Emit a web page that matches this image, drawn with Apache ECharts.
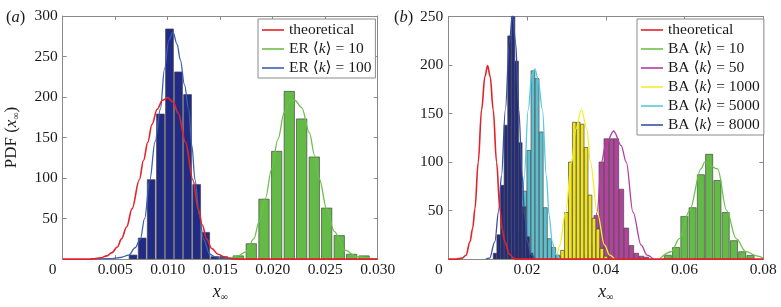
<!DOCTYPE html>
<html>
<head>
<meta charset="utf-8">
<script src="https://cdn.jsdelivr.net/npm/echarts@6/dist/echarts.min.js"></script>
<style>
html,body{margin:0;padding:0;background:#fff;}
#chart{width:781px;height:307px;}
</style>
</head>
<body>
<div id="chart"></div>
<script>
// ---------- DATA ----------
// panel (a) axis ticks [min, max, interval]
const xTicksA = [0, 0.03, 0.005];
const yTicksA = [0, 300, 50];
// panel (b) axis ticks
const xTicksB = [0, 0.08, 0.02];
const yTicksB = [0, 250, 50];

// panel (a) histograms (bin centres, PDF heights)
const erK100Centers = [0.00670, 0.00757, 0.00843, 0.00931, 0.01017, 0.01103, 0.01189, 0.01276, 0.01362, 0.01448, 0.01533];
const erK100Counts  = [5, 26, 98, 179, 284, 231, 203, 92, 33, 3, 3];
const erK100Bin = 0.000866;
const erK10Centers = [0.01672, 0.01796, 0.01917, 0.02038, 0.02158, 0.02276, 0.02396, 0.02514, 0.02634, 0.02752, 0.02870];
const erK10Counts  = [4, 19, 74, 133, 207, 173, 126, 63, 29, 6, 4];
const erK10Bin = 0.0012;

// panel (a) curves
const theoreticalA = [[0,0],[0.0025,0],[0.003,0.5],[0.0036,1.5],[0.0042,4],[0.0047,8],[0.0052,15],[0.0056,25],[0.0061,40],[0.0066,62],[0.0073,98],[0.0077,122],[0.0081,144],[0.0085,166],[0.0090,185],[0.0095,196],[0.0100,199],[0.0105,194],[0.0110,180],[0.0117,144],[0.0124,98],[0.0129,62],[0.0133,42],[0.0137,25],[0.0142,13],[0.0148,6],[0.0155,2],[0.0162,0.5],[0.0170,0],[0.030,0]];
const erK100Curve = [[0.003,0],[0.0045,0.5],[0.0055,2],[0.0063,5],[0.0069,14],[0.0074,25],[0.0078,50],[0.0083,98],[0.0088,145],[0.0093,185],[0.0097,235],[0.0101,270],[0.0105,280],[0.0109,265],[0.0112,246],[0.0116,215],[0.0120,185],[0.0123,140],[0.0126,98],[0.0130,55],[0.0134,25],[0.0140,6],[0.0145,3],[0.0153,1],[0.0165,0]];
const erK10Curve = [[0.0150,0],[0.0159,1],[0.0167,4],[0.01745,9],[0.0182,25],[0.0187,46],[0.0193,75],[0.0199,111],[0.0205,148],[0.0211,181],[0.02165,195],[0.0221,196],[0.02276,187],[0.02349,156],[0.0240,128],[0.02444,99],[0.02514,62],[0.02587,34],[0.02689,11],[0.0280,3],[0.02927,1],[0.0300,0]];

// panel (b) histograms
const baK8000Centers = [0.01186, 0.01278, 0.01370, 0.01462, 0.01554, 0.01646, 0.01738, 0.01830, 0.01922, 0.02014, 0.02106];
const baK8000Counts  = [6, 25, 76, 138, 230, 252, 204, 120, 54, 23, 6];
const baK8000Bin = 0.00092;
const baK5000Centers = [0.01730, 0.01835, 0.01940, 0.02045, 0.02150, 0.02255, 0.02360, 0.02465, 0.02570, 0.02675, 0.02780];
const baK5000Counts  = [8, 28, 70, 112, 194, 186, 131, 53, 21, 12, 4];
const baK5000Bin = 0.00105;
const baK1000Centers = [0.0280, 0.0290, 0.0300, 0.0310, 0.0320, 0.0330, 0.0340, 0.0350, 0.0360, 0.0370, 0.0380, 0.0390, 0.0400];
const baK1000Counts  = [3, 9, 48, 100, 141, 141, 139, 115, 66, 42, 31, 11, 3];
const baK1000Bin = 0.001;
const baK50Centers = [0.03500, 0.03633, 0.03760, 0.03887, 0.04014, 0.04141, 0.04267, 0.04394, 0.04521, 0.04648, 0.04774, 0.04901, 0.05028];
const baK50Counts  = [4, 14, 45, 100, 124, 124, 124, 72, 32, 14, 6, 3, 2];
const baK50Bin = 0.00127;
const baK10Centers = [0.05575, 0.05785, 0.05995, 0.06205, 0.06415, 0.06625, 0.06835, 0.07045, 0.07255, 0.07465, 0.07675];
const baK10Counts  = [4, 12, 44, 53, 87, 108, 81, 48, 19, 7.6, 3.8];
const baK10Bin = 0.0021;

// panel (b) curves
const theoreticalB = [[0,0],[0.002,0],[0.0035,1],[0.0045,4],[0.0055,17.8],[0.0062,32],[0.00677,52],[0.0076,100],[0.00846,154],[0.0093,188],[0.00998,199.5],[0.01064,188],[0.0114,154],[0.01226,100],[0.0131,52],[0.0137,30],[0.01437,17.8],[0.0155,5],[0.0169,0],[0.08,0]];
const baK8000Curve = [[0.0095,0],[0.0105,1],[0.0118,17.8],[0.0128,50],[0.0135,86],[0.0145,154],[0.0155,223],[0.0163,252],[0.0171,223],[0.0179,154],[0.01875,86],[0.0194,45],[0.0201,17.8],[0.021,5],[0.022,0]];
const baK5000Curve = [[0.0165,0],[0.0172,5],[0.0179,17.8],[0.0186,45],[0.0193,86],[0.0203,154],[0.0212,190],[0.0220,196],[0.0228,185],[0.0239,154],[0.0249,86],[0.0256,45],[0.0264,17.8],[0.0272,5],[0.0283,0]];
const baK1000Curve = [[0.0266,0],[0.0275,4],[0.0283,14.3],[0.0298,48.5],[0.0313,99.8],[0.0324,134],[0.0338,154],[0.0352,134],[0.0361,99.8],[0.0378,48.5],[0.0397,14.3],[0.041,4],[0.0422,0]];
const baK50Curve = [[0.035,0],[0.0358,4],[0.0368,14.3],[0.0378,48.5],[0.0389,99.8],[0.0399,117],[0.0420,132],[0.0439,117],[0.0452,99.8],[0.0469,48.5],[0.0490,14.3],[0.0505,4],[0.052,0]];
const baK10Curve = [[0.0536,0],[0.0566,7.6],[0.0587,21],[0.06125,50],[0.0642,93],[0.0651,100],[0.0684,93],[0.0707,50],[0.0731,21],[0.0756,7.6],[0.0786,3],[0.08,1]];

// series names (legend text)
const namesA = ['theoretical', 'ER ⟨k⟩ = 10', 'ER ⟨k⟩ = 100'];
const namesB = ['theoretical', 'BA ⟨k⟩ = 10', 'BA ⟨k⟩ = 50', 'BA ⟨k⟩ = 1000', 'BA ⟨k⟩ = 5000', 'BA ⟨k⟩ = 8000'];

// ---------- CHART ----------
const SERIF = '"Liberation Serif", "DejaVu Serif", serif';
const AX = '#8a8a8a';
const TXT = '#1a1a1a';
const TICKFS = 15.5;
const chart = echarts.init(document.getElementById('chart'), null, {renderer: 'canvas'});

function histSeries(name, gridIdx, centers, counts, bin, fill, z, fillRatio) {
  return {
    type: 'custom', name: name + ' hist', xAxisIndex: gridIdx * 2, yAxisIndex: gridIdx * 2,
    z: z, clip: true, silent: true,
    data: centers.map((c, i) => [c, counts[i]]),
    renderItem: function (params, api) {
      const c = api.value(0), h = api.value(1), half = bin * fillRatio / 2;
      const p0 = api.coord([c - half, h]);
      const p1 = api.coord([c + half, 0]);
      return {
        type: 'rect',
        shape: {x: p0[0], y: p0[1], width: p1[0] - p0[0], height: p1[1] - p0[1]},
        style: {fill: fill, stroke: 'rgba(70,70,70,0.85)', lineWidth: 0.8}
      };
    }
  };
}
function curveSeries(name, gridIdx, data, color, z, w) {
  return {
    type: 'line', name: name, xAxisIndex: gridIdx * 2, yAxisIndex: gridIdx * 2,
    data: data, smooth: 0.35, smoothMonotone: 'x', symbol: 'none', z: z, silent: true,
    lineStyle: {color: color, width: w || 1.3}, itemStyle: {color: color}
  };
}
function xAxes(gridIdx, t, fmt, zeroPad) {
  return [{
    type: 'value', gridIndex: gridIdx, min: t[0], max: t[1], interval: t[2], position: 'bottom',
    axisLine: {show: true, onZero: false, lineStyle: {color: AX, width: 1}},
    axisTick: {show: true, inside: true, length: 4, lineStyle: {color: AX}},
    splitLine: {show: false},
    axisLabel: {
      margin: 3, color: TXT, fontFamily: SERIF, fontSize: TICKFS,
      formatter: v => (Math.abs(v) < 1e-12 ? '{z|0}' : v.toFixed(fmt)),
      rich: {z: {fontFamily: SERIF, fontSize: TICKFS, color: TXT, padding: [0, zeroPad, 0, 0]}}
    },
    name: '{x|x}{s|∞}', nameLocation: 'middle', nameGap: 17,
    nameTextStyle: {rich: {
      x: {fontFamily: SERIF, fontStyle: 'italic', fontSize: 18, color: TXT, lineHeight: 20},
      s: {fontFamily: SERIF, fontSize: 10, color: TXT, lineHeight: 10, verticalAlign: 'bottom'}
    }}
  }, {
    type: 'value', gridIndex: gridIdx, min: t[0], max: t[1], interval: t[2], position: 'top',
    axisLine: {show: true, onZero: false, lineStyle: {color: AX, width: 1}},
    axisTick: {show: true, inside: true, length: 4, lineStyle: {color: AX}},
    axisLabel: {show: false}, splitLine: {show: false}
  }];
}
function yAxes(gridIdx, t, withName) {
  const main = {
    type: 'value', gridIndex: gridIdx, min: t[0], max: t[1], interval: t[2], position: 'left',
    axisLine: {show: true, onZero: false, lineStyle: {color: AX, width: 1}},
    axisTick: {show: true, inside: true, length: 4, lineStyle: {color: AX}},
    splitLine: {show: false},
    axisLabel: {margin: 5, color: TXT, fontFamily: SERIF, fontSize: TICKFS, showMinLabel: false}
  };
  if (withName) {
    main.name = 'PDF ({x|x}{s|∞})';
    main.nameLocation = 'middle';
    main.nameGap = 41;
    main.nameTextStyle = {fontFamily: SERIF, fontSize: 17, color: TXT, rich: {
      x: {fontFamily: SERIF, fontStyle: 'italic', fontSize: 17, color: TXT, lineHeight: 20},
      s: {fontFamily: SERIF, fontSize: 10, color: TXT, lineHeight: 10, verticalAlign: 'bottom'}
    }};
  }
  return [main, {
    type: 'value', gridIndex: gridIdx, min: t[0], max: t[1], interval: t[2], position: 'right',
    axisLine: {show: true, onZero: false, lineStyle: {color: AX, width: 1}},
    axisTick: {show: true, inside: true, length: 4, lineStyle: {color: AX}},
    axisLabel: {show: false}, splitLine: {show: false}
  }];
}
function legendCfg(names, left, top) {
  return {
    data: names, orient: 'vertical', left: left, top: top, selectedMode: false,
    icon: 'rect', itemWidth: 22, itemHeight: 1.6, itemGap: 3, padding: [3, 4, 2, 4],
    borderColor: '#8a8a8a', borderWidth: 1, backgroundColor: '#fff',
    textStyle: {fontFamily: SERIF, fontSize: 15.5, color: TXT, lineHeight: 16,
      rich: {i: {fontFamily: SERIF, fontSize: 15.5, fontStyle: 'italic', color: TXT, lineHeight: 16}}},
    formatter: n => n.replace('⟨k⟩', '⟨{i|k}⟩')
  };
}

const RED = '#e2232b';
const option = {
  animation: false,
  backgroundColor: '#ffffff',
  title: [
    {text: '({i|a})', left: 1, top: 4, textStyle: {fontFamily: SERIF, fontSize: 16.5, fontWeight: 'normal', color: TXT,
      rich: {i: {fontFamily: SERIF, fontSize: 16.5, fontStyle: 'italic', color: TXT}}}},
    {text: '({i|b})', left: 389, top: 4, textStyle: {fontFamily: SERIF, fontSize: 16.5, fontWeight: 'normal', color: TXT,
      rich: {i: {fontFamily: SERIF, fontSize: 16.5, fontStyle: 'italic', color: TXT}}}}
  ],
  grid: [
    {left: 62.7, top: 16, width: 315, height: 244.7, containLabel: false},
    {left: 448.3, top: 16.5, width: 315, height: 244.2, containLabel: false}
  ],
  xAxis: [...xAxes(0, xTicksA, 3, 20), ...xAxes(1, xTicksB, 2, 19)],
  yAxis: [...yAxes(0, yTicksA, true), ...yAxes(1, yTicksB, false)],
  legend: [legendCfg(namesA, 258, 19), legendCfg(namesB, 637, 19)],
  series: [
    histSeries('erk10', 0, erK10Centers, erK10Counts, erK10Bin, '#63ba47', 2, 0.82),
    curveSeries(namesA[1], 0, erK10Curve, '#6cc14b', 3),
    histSeries('erk100', 0, erK100Centers, erK100Counts, erK100Bin, '#212b85', 4, 0.86),
    curveSeries(namesA[2], 0, erK100Curve, '#3c5fb6', 5),
    curveSeries(namesA[0], 0, theoreticalA, RED, 6, 1.6),

    histSeries('bak10', 1, baK10Centers, baK10Counts, baK10Bin, '#63ba47', 2, 0.86),
    curveSeries(namesB[1], 1, baK10Curve, '#6cc14b', 2.5),
    histSeries('bak50', 1, baK50Centers, baK50Counts, baK50Bin, '#b2439c', 2.6, 0.94),
    curveSeries(namesB[2], 1, baK50Curve, '#b13da0', 2.7),
    histSeries('bak1000', 1, baK1000Centers, baK1000Counts, baK1000Bin, '#efe21e', 2.8, 0.94),
    curveSeries(namesB[3], 1, baK1000Curve, '#f3ee2c', 2.9),
    histSeries('bak5000', 1, baK5000Centers, baK5000Counts, baK5000Bin, '#5cbfcf', 3, 0.94),
    curveSeries(namesB[4], 1, baK5000Curve, '#58c9e2', 3.1),
    histSeries('bak8000', 1, baK8000Centers, baK8000Counts, baK8000Bin, '#232b7c', 3.2, 0.96),
    curveSeries(namesB[5], 1, baK8000Curve, '#3a50a0', 3.3),
    curveSeries(namesB[0], 1, theoreticalB, RED, 6, 1.6)
  ]
};
chart.setOption(option);
</script>
</body>
</html>
